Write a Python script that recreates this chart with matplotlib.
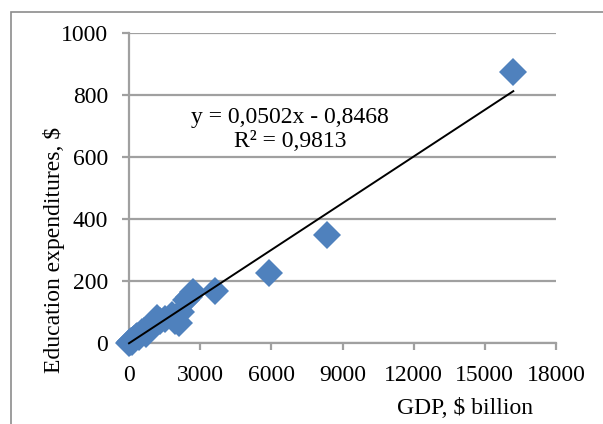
import matplotlib
matplotlib.use("Agg")
import matplotlib.pyplot as plt
from matplotlib.patches import Rectangle
import numpy as np

# Data
gdp = [0, 40, 80, 130, 180, 230, 300, 350, 420, 500, 560, 650, 720, 800, 900,
       1000, 1100, 1200, 1300, 1500, 1800, 1950, 2100, 2200, 2400, 2550, 2700,
       3630, 5900, 8350, 16200]
edu = [0, 3, 6, 4, 10, 14, 18, 24, 20, 30, 36, 40, 28, 45, 55,
       65, 60, 80, 72, 78, 90, 70, 64, 100, 140, 150, 165,
       168, 226, 348, 874]
slope, intercept = 0.0502, -0.8468
eq_text = "y = 0,0502x - 0,8468\nR² = 0,9813"
x_ticks = [0, 3000, 6000, 9000, 12000, 15000, 18000]
y_ticks = [0, 200, 400, 600, 800, 1000]

plt.rcParams['font.family'] = ['Liberation Serif', 'DejaVu Serif']

fig = plt.figure(figsize=(6.03, 4.24), dpi=100)
fig.patch.set_facecolor('white')
fig.patches.append(Rectangle((11/603, -0.1), 1.2, 1 - 12/424 + 0.1,
                             transform=fig.transFigure, fill=False,
                             edgecolor='#8c8c8c', linewidth=1.2))

ax = fig.add_axes([129/603, 1 - 343/424, 427/603, 310/424])
ax.set_xlim(0, 18000)
ax.set_ylim(0, 1000)
ax.set_xticks(x_ticks)
ax.set_yticks(y_ticks)
ax.grid(axis='y', color='#a0a0a0', linewidth=1.6)
ax.set_axisbelow(True)
for s in ['top', 'right']:
    ax.spines[s].set_visible(False)
for s in ['left', 'bottom']:
    ax.spines[s].set_color('#a0a0a0')
    ax.spines[s].set_linewidth(1.6)
ax.tick_params(axis='both', colors='#a0a0a0', width=1.6, labelsize=17,
               labelcolor='black')
ax.tick_params(axis='y', length=5, pad=10)
ax.tick_params(axis='x', length=5, pad=11)

ax.plot(gdp, edu, linestyle='none', marker='D', markersize=14,
        color='#4F81BD', markeredgewidth=0, zorder=3, clip_on=False)
xl = np.array([min(gdp), max(gdp)])
ax.plot(xl, slope * xl + intercept, color='black', linewidth=1.4, zorder=4,
        clip_on=False)

ax.text(6790, 688, eq_text, ha='center', va='center', fontsize=17,
        linespacing=1.2)

fig.text(54/603, 1 - 250/424, "Education expenditures, $", rotation=90,
         ha='center', va='center', fontsize=17)
fig.text(465/603, 1 - 408/424, "GDP, $ billion", ha='center', va='center',
         fontsize=17)

fig.savefig("out.png", dpi=100)
